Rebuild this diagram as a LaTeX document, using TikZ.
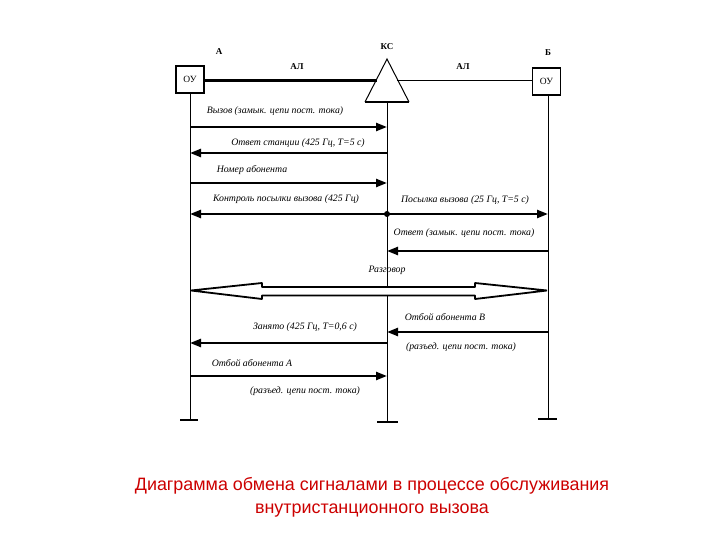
\documentclass[tikz,border=0pt]{standalone}
\usepackage{fontspec}
\setmainfont{Liberation Serif}
\newfontfamily\capfont{Liberation Sans}
\usetikzlibrary{arrows.meta}
\tikzset{
  lbl/.style={font=\fontsize{9.8}{11}\selectfont\itshape, inner sep=1pt},
  hdr/.style={font=\fontsize{9}{10}\selectfont\bfseries, inner sep=1pt},
  oubox/.style={draw, line width=1.8pt, minimum width=28pt, minimum height=27pt, font=\fontsize{9.5}{10}\selectfont, inner sep=0pt},
  life/.style={line width=1pt},
  sig/.style={line width=2.3pt, -{Triangle[length=11pt,width=8pt]}},
  endbar/.style={line width=2.2pt},
}
\begin{document}
\begin{tikzpicture}[x=1pt,y=-1pt]
\useasboundingbox (0,0) rectangle (720,540);
% stations
\node[oubox] (ouA) at (190,79.5) {ОУ};
\node[oubox] (ouB) at (546.5,81.5) {ОУ};
\coordinate (tA) at (387,59);
\coordinate (tL) at (365,102);
\coordinate (tR) at (409,102);
\draw[line width=1pt] (tL) -- (tA) -- (tR);
\draw[line width=2.3pt] (tL) -- (tR);
\coordinate (ks) at (387,102);
\node[hdr] (lA) at (219,52) {А};
\node[hdr] (lKS) at (387,47) {КС};
\node[hdr] (lB) at (548,53) {Б};
\node[hdr] (al1) at (297,67) {АЛ};
\node[hdr] (al2) at (463,67) {АЛ};
\coordinate (tinL) at (377,80.5);
\coordinate (tinR) at (397,80.5);
\draw[line width=2.6pt] (ouA.east |- tinL) -- (tinL);
\draw[line width=1pt] (tinR) -- (ouB.west |- tinR);
% lifelines
\coordinate (eA) at (190,420);
\coordinate (eK) at (387,422);
\coordinate (eB) at (548,419);
\draw[life] (ouA.south -| eA) -- (eA);
\draw[life] (ks) -- (eK);
\draw[life] (ouB.south -| eB) -- (eB);
\draw[endbar] (180,420) -- (198,420);
\draw[endbar] (377,422) -- (398,422);
\draw[endbar] (538,419) -- (557,419);
% signals
\coordinate (a1) at (190,127); \coordinate (k1) at (387,127);
\node[lbl] (s1) at (275,111) {Вызов (замык. цепи пост. тока)};
\draw[sig] (a1) -- (k1);
\coordinate (a2) at (190,153); \coordinate (k2) at (387,153);
\node[lbl] (s2) at (298,143) {Ответ станции (425 Гц, T=5 с)};
\draw[sig] (k2) -- (a2);
\coordinate (a3) at (190,183); \coordinate (k3) at (387,183);
\node[lbl] (s3) at (252,170) {Номер абонента};
\draw[sig] (a3) -- (k3);
\coordinate (a4) at (190,214); \coordinate (k4) at (387,214); \coordinate (b4) at (548,214);
\node[lbl] (s4a) at (286,199) {Контроль посылки вызова (425 Гц)};
\node[lbl] (s4b) at (465,200) {Посылка вызова (25 Гц, T=5 с)};
\draw[sig] (k4) -- (a4);
\draw[sig] (k4) -- (b4);
\fill (k4) circle (3);
\coordinate (b5) at (548,251); \coordinate (k5) at (387,251);
\node[lbl] (s5) at (464,233) {Ответ (замык. цепи пост. тока)};
\draw[sig] (b5) -- (k5);
% talk
\node[lbl] (s6) at (387,270) {Разговор};
\draw[line width=1.8pt, line join=bevel, fill=white] (191,290.5) -- (262,283) -- (262,287) -- (475,287) -- (475,283) -- (547,290.5) -- (475,299) -- (475,295.5) -- (262,295.5) -- (262,299) -- cycle;
% release
\coordinate (b7) at (548,332); \coordinate (k7) at (387,332);
\node[lbl] (s7) at (445,317) {Отбой абонента В};
\node[lbl] (s7b) at (461,347) {(разъед. цепи пост. тока)};
\draw[sig] (b7) -- (k7);
\coordinate (k8) at (387,343); \coordinate (a8) at (190,343);
\node[lbl] (s8) at (305,327) {Занято (425 Гц, T=0,6 с)};
\draw[sig] (k8) -- (a8);
\coordinate (a9) at (190,376); \coordinate (k9) at (387,376);
\node[lbl] (s9) at (252,363) {Отбой абонента А};
\node[lbl] (s9b) at (305,391) {(разъед. цепи пост. тока)};
\draw[sig] (a9) -- (k9);
% caption
\node[font=\capfont\fontsize{17.9}{23}\selectfont, text=red!80!black, align=center] (cap) at (372,497)
  {Диаграмма обмена сигналами в процессе обслуживания\\внутристанционного вызова};
\end{tikzpicture}
\end{document}
